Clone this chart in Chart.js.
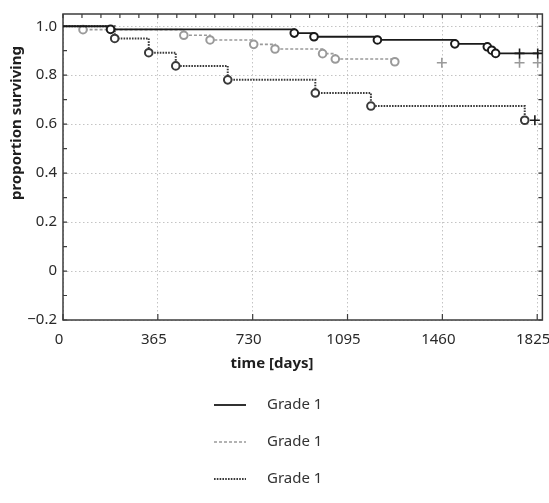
<!DOCTYPE html>
<html>
<head>
<meta charset="utf-8">
<script src="https://cdn.jsdelivr.net/npm/chart.js@4.4.0/dist/chart.umd.min.js"></script>
<style>
  html, body { margin: 0; padding: 0; background: #fff; }
  #wrap { width: 549px; height: 503px; position: relative; }
</style>
</head>
<body>
<div id="wrap"><canvas id="kmChart"></canvas></div>
<script>
// survival curves (time in days)
const gradeATime = [0, 183, 890, 966, 1210, 1508, 1633, 1650, 1665, 1832];
const gradeASurv = [1.0, 0.987, 0.972, 0.957, 0.944, 0.928, 0.916, 0.902, 0.889, 0.889];
const gradeACensorTime = [1757, 1827];
const gradeACensorSurv = [0.889, 0.889];

const gradeBTime = [0, 77, 465, 566, 734, 816, 999, 1048, 1277];
const gradeBSurv = [1.0, 0.986, 0.963, 0.944, 0.926, 0.907, 0.888, 0.866, 0.855];
const gradeBCensorTime = [1458, 1757, 1827];
const gradeBCensorSurv = [0.851, 0.851, 0.851];

const gradeCTime = [0, 199, 330, 434, 634, 971, 1185, 1777];
const gradeCSurv = [1.0, 0.950, 0.892, 0.838, 0.781, 0.727, 0.674, 0.616];
const gradeCCensorTime = [1816];
const gradeCCensorSurv = [0.616];

const seriesLabels = ['Grade 1', 'Grade 1', 'Grade 1'];

const xTicks = [0, 365, 730, 1095, 1460, 1825];
const xTickLabels = ['0', '365', '730', '1095', '1460', '1825'];
const yTicks = [-0.2, 0, 0.2, 0.4, 0.6, 0.8, 1.0];
const yTickLabels = ['\u22120.2', '0', '0.2', '0.4', '0.6', '0.8', '1.0'];

const FONT = '"Noto Sans", "DejaVu Sans", sans-serif';

function toPoints(xs, ys) {
    return xs.map((x, i) => ({ x: x, y: ys[i] }));
}

// circle only where the curve drops
function eventRadius(ys, r) {
    return ctx => {
        const i = ctx.dataIndex;
        return (i > 0 && ys[i] < ys[i - 1]) ? r : 0;
    };
}

function curve(label, xs, ys, color, dash, width, order) {
    return {
        label: label,
        data: toPoints(xs, ys),
        stepped: 'before',
        borderColor: color,
        borderWidth: width,
        borderDash: dash,
        pointStyle: 'circle',
        pointRadius: eventRadius(ys, 3.8),
        pointBorderWidth: 2,
        pointBorderColor: color,
        pointBackgroundColor: '#fff',
        fill: false,
        order: order
    };
}

function censor(xs, ys, color, order) {
    return {
        type: 'scatter',
        data: toPoints(xs, ys),
        showLine: false,
        pointStyle: 'cross',
        pointRadius: 5,
        pointBorderWidth: 1.6,
        pointBorderColor: color,
        borderColor: color,
        backgroundColor: color,
        censor: true,
        order: order
    };
}

// box around the plot with inward ticks, axis titles and the stacked legend
const framePlugin = {
    id: 'frame',
    beforeDatasetsDraw(chart) {
        const { ctx, chartArea: a, scales: { x, y } } = chart;
        ctx.save();
        ctx.strokeStyle = '#3c3c3c';
        ctx.lineWidth = 1.5;
        ctx.setLineDash([]);
        ctx.strokeRect(a.left, a.top, a.right - a.left, a.bottom - a.top);
        ctx.lineWidth = 1.2;
        ctx.beginPath();
        for (let v = 0; v <= 1825; v += 73) {
            const px = x.getPixelForValue(v);
            ctx.moveTo(px, a.top);
            ctx.lineTo(px, a.top + 4);
        }
        xTicks.forEach(v => {
            const px = x.getPixelForValue(v);
            ctx.moveTo(px, a.bottom);
            ctx.lineTo(px, a.bottom - 6);
        });
        for (let k = -2; k <= 10; k++) {
            const py = y.getPixelForValue(k / 10);
            ctx.moveTo(a.left, py);
            ctx.lineTo(a.left + 4, py);
            ctx.moveTo(a.right, py);
            ctx.lineTo(a.right - 4, py);
        }
        ctx.stroke();
        ctx.restore();
    },
    afterDraw(chart) {
        const { ctx } = chart;
        ctx.save();
        ctx.fillStyle = '#1e1e1e';
        ctx.font = 'bold 15px ' + FONT;
        ctx.textAlign = 'center';
        ctx.textBaseline = 'middle';
        ctx.fillText('time [days]', 272, 364);
        ctx.translate(17, 123);
        ctx.rotate(-Math.PI / 2);
        ctx.fillText('proportion surviving', 0, 0);
        ctx.restore();

        // legend, one row per curve
        const rows = chart.data.datasets.filter(d => !d.censor);
        ctx.save();
        ctx.font = '15px ' + FONT;
        ctx.textAlign = 'left';
        ctx.textBaseline = 'middle';
        rows.forEach((d, i) => {
            const ry = 405 + i * 37;
            ctx.strokeStyle = d.borderColor;
            ctx.lineWidth = d.borderWidth;
            ctx.setLineDash(d.borderDash || []);
            ctx.beginPath();
            ctx.moveTo(214, ry);
            ctx.lineTo(246, ry);
            ctx.stroke();
            ctx.fillStyle = '#333';
            ctx.fillText(d.label, 267, ry);
        });
        ctx.restore();
    }
};

new Chart(document.getElementById('kmChart'), {
    type: 'line',
    data: {
        datasets: [
            curve(seriesLabels[0], gradeATime, gradeASurv, '#1a1a1a', [], 1.8, 1),
            curve(seriesLabels[1], gradeBTime, gradeBSurv, '#9a9a9a', [3, 2], 1.6, 3),
            curve(seriesLabels[2], gradeCTime, gradeCSurv, '#3a3a3a', [1.6, 1.2], 2, 2),
            censor(gradeACensorTime, gradeACensorSurv, '#1a1a1a', 1),
            censor(gradeBCensorTime, gradeBCensorSurv, '#9a9a9a', 3),
            censor(gradeCCensorTime, gradeCCensorSurv, '#1a1a1a', 2)
        ]
    },
    options: {
        responsive: true,
        maintainAspectRatio: false,
        animation: false,
        layout: { padding: { top: 14, right: 6, left: 0, bottom: 0 } },
        plugins: {
            legend: { display: false },
            tooltip: { enabled: false }
        },
        scales: {
            x: {
                type: 'linear',
                min: 0,
                max: 1845,
                afterBuildTicks: s => { s.ticks = xTicks.map(v => ({ value: v })); },
                afterFit: s => { s.height = 183; s.paddingLeft = 0; s.paddingRight = 0; },
                grid: {
                    color: '#c4c4c4',
                    lineWidth: 1,
                    drawTicks: false
                },
                border: { display: false, dash: [1.5, 2.5] },
                ticks: {
                    color: '#2a2a2a',
                    padding: 11,
                    labelOffset: -4,
                    maxRotation: 0,
                    autoSkip: false,
                    font: { family: FONT, size: 15 },
                    callback: (value, index) => xTickLabels[index]
                }
            },
            y: {
                min: -0.2,
                max: 1.05,
                afterBuildTicks: s => { s.ticks = yTicks.map(v => ({ value: v })); },
                afterFit: s => { s.width = 63; s.paddingTop = 0; s.paddingBottom = 0; },
                grid: {
                    color: '#c4c4c4',
                    lineWidth: 1,
                    drawTicks: false
                },
                border: { display: false, dash: [1.5, 2.5] },
                ticks: {
                    color: '#2a2a2a',
                    padding: 6,
                    autoSkip: false,
                    font: { family: FONT, size: 15 },
                    callback: (value, index) => yTickLabels[index]
                }
            }
        }
    },
    plugins: [framePlugin]
});
</script>
</body>
</html>
